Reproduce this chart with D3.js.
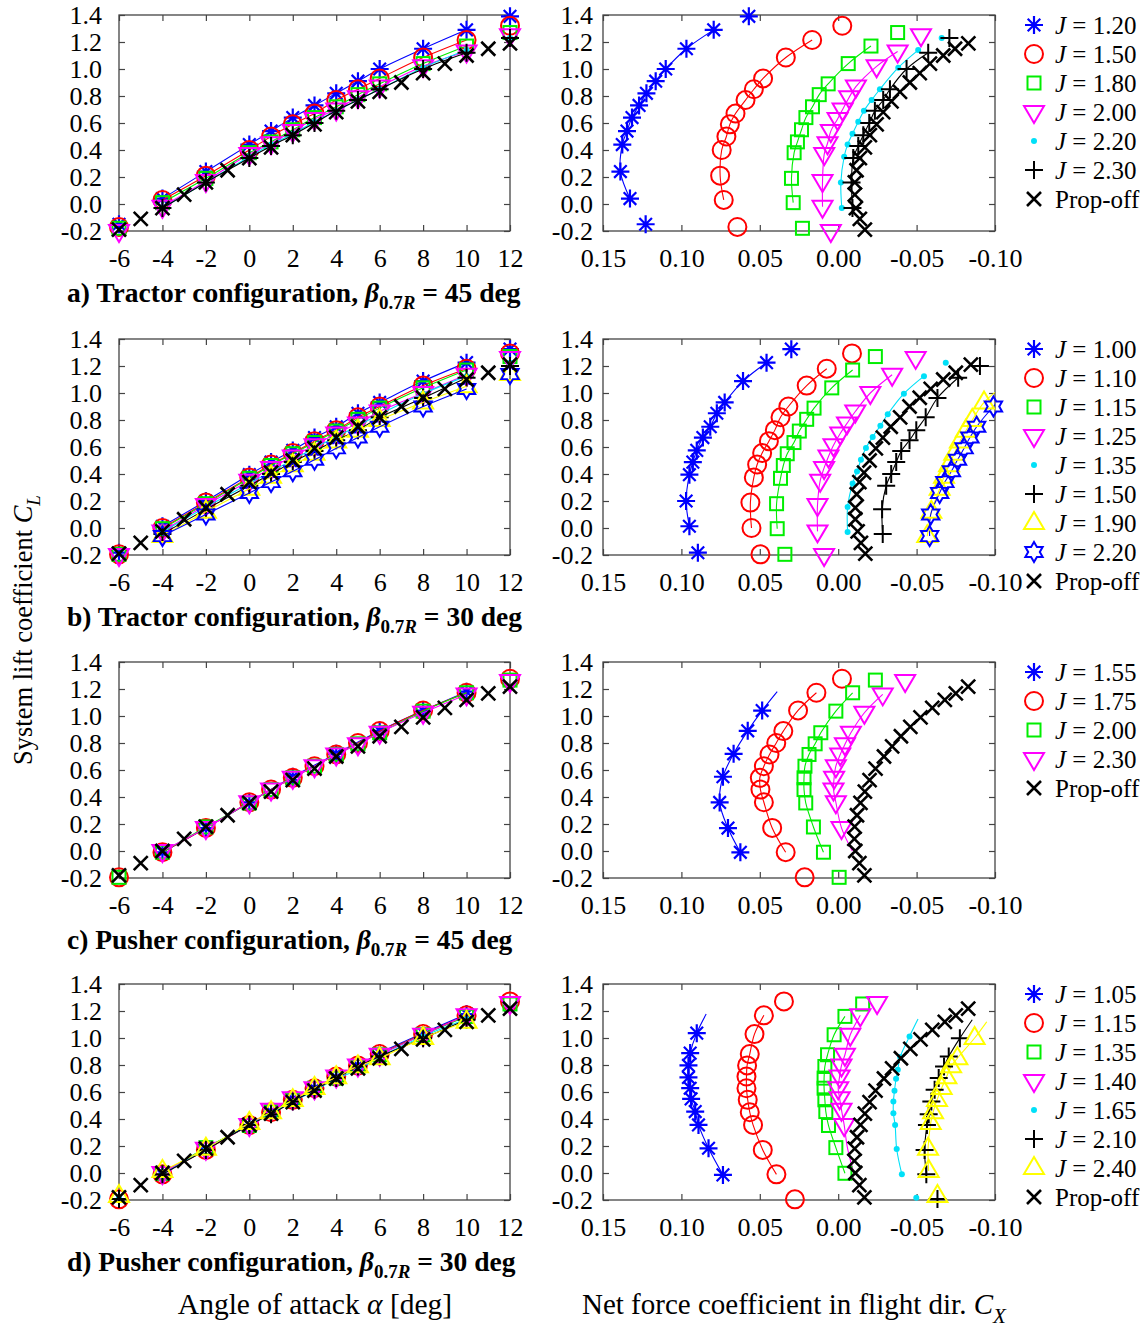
<!DOCTYPE html>
<html><head><meta charset="utf-8">
<script src="https://cdn.jsdelivr.net/npm/d3@7"></script>
<style>
body{margin:0;background:#fff}
svg{display:block}
text{font-family:"Liberation Serif","Times New Roman",serif;fill:#000}
</style>
</head><body>
<svg id="chart" width="1145" height="1328"></svg>
<script>
// ---------------- DATA ----------------
const ALPHA = [-6,-4,-2,0,1,2,3,4,5,6,8,10,12];
const ALPHA_OFF = [-6,-5,-4,-3,-2,-1,0,1,2,3,4,5,6,7,8,9,10,11,12];
const X_TICKS_L = [-6,-4,-2,0,2,4,6,8,10,12];
const X_TICKS_R = [0.15,0.10,0.05,0.00,-0.05,-0.10];
const Y_TICKS = [-0.2,0.0,0.2,0.4,0.6,0.8,1.0,1.2,1.4];

// a) Tractor, beta = 45 deg
const aJ = ["1.20","1.50","1.80","2.00","2.20","2.30"];
const aCL = [
 [-0.15,0.04,0.24,0.44,0.54,0.64,0.73,0.82,0.91,1.00,1.15,1.29,1.39],
 [-0.17,0.03,0.21,0.40,0.50,0.59,0.67,0.77,0.85,0.93,1.085,1.215,1.32],
 [-0.18,0.01,0.19,0.38,0.46,0.55,0.64,0.72,0.81,0.89,1.04,1.17,1.27],
 [-0.20,-0.02,0.17,0.37,0.45,0.54,0.63,0.70,0.79,0.87,1.02,1.13,1.25],
 [null,-0.03,0.16,0.35,0.44,0.52,0.61,0.69,0.77,0.85,1.01,1.14,1.23],
 [null,-0.03,0.16,0.34,0.43,0.51,0.60,0.69,0.77,0.85,1.00,1.12,1.23]
];
const aCX = [
 [0.1228,0.1328,0.1389,0.1377,0.1347,0.1315,0.1270,0.1223,0.1164,0.1100,0.0968,0.0794,0.0570],
 [0.0643,0.0730,0.0753,0.0743,0.0713,0.0691,0.0655,0.0591,0.0538,0.0479,0.0334,0.0166,-0.0026],
 [0.0228,0.0287,0.0298,0.0281,0.0260,0.0234,0.0206,0.0164,0.0121,0.0064,-0.0064,-0.0209,-0.0379],
 [0.0047,0.0100,0.0100,0.0089,0.0068,0.0047,0.0004,-0.0028,-0.0070,-0.0113,-0.0245,-0.0379,-0.0528],
 [null,-0.0023,-0.0017,-0.0038,-0.0060,-0.0091,-0.0128,-0.0164,-0.0213,-0.0266,-0.0383,-0.0510,-0.0660],
 [null,-0.0091,-0.0085,-0.0096,-0.0128,-0.0160,-0.0198,-0.0234,-0.0287,-0.0330,-0.0436,-0.0574,-0.0709]
];
const aHide = [[],[],[],[],[],[]];
const aOffCL = [-0.19,-0.11,-0.03,0.07,0.16,0.25,0.34,0.42,0.51,0.59,0.68,0.76,0.83,0.90,0.97,1.04,1.10,1.15,1.19];
const aOffCX = [-0.0170,-0.0138,-0.0113,-0.0106,-0.0106,-0.0117,-0.0138,-0.0170,-0.0202,-0.0245,-0.0287,-0.0340,-0.0394,-0.0457,-0.0520,-0.0585,-0.0670,-0.0745,-0.0830];

// b) Tractor, beta = 30 deg
const bJ = ["1.00","1.10","1.15","1.25","1.35","1.50","1.90","2.20"];
const bCL = [
 [-0.183,0.013,0.200,0.395,0.488,0.575,0.670,0.750,0.850,0.930,1.088,1.225,1.325],
 [-0.195,0.000,0.188,0.375,0.470,0.555,0.643,0.725,0.820,0.900,1.055,1.180,1.293],
 [-0.195,-0.005,0.180,0.368,0.463,0.550,0.633,0.718,0.805,0.888,1.038,1.170,1.270],
 [-0.200,-0.025,0.170,0.350,0.445,0.530,0.613,0.700,0.775,0.863,1.000,1.135,1.260],
 [null,-0.030,0.155,0.330,0.418,0.505,0.593,0.675,0.758,0.843,0.995,1.125,1.225],
 [null,-0.045,0.138,0.313,0.400,0.488,0.570,0.650,0.725,0.820,0.963,1.113,1.200],
 [null,-0.060,0.120,0.290,0.380,0.465,0.550,0.640,0.720,0.800,0.930,1.050,1.140],
 [null,-0.060,0.100,0.260,0.340,0.420,0.505,0.590,0.670,0.750,0.900,1.030,1.140]
];
const bCX = [
 [0.0895,0.0949,0.0970,0.0949,0.0927,0.0902,0.0863,0.0816,0.0774,0.0724,0.0607,0.0457,0.0299],
 [0.0496,0.0553,0.0560,0.0538,0.0517,0.0485,0.0442,0.0404,0.0368,0.0318,0.0201,0.0073,-0.0088],
 [0.0340,0.0389,0.0393,0.0368,0.0350,0.0325,0.0282,0.0248,0.0201,0.0154,0.0041,-0.0092,-0.0237],
 [0.0090,0.0132,0.0132,0.0115,0.0090,0.0062,0.0030,-0.0013,-0.0056,-0.0109,-0.0205,-0.0344,-0.0494],
 [null,-0.0060,-0.0060,-0.0092,-0.0120,-0.0145,-0.0177,-0.0220,-0.0269,-0.0316,-0.0419,-0.0547,-0.0686],
 [null,-0.0284,-0.0280,-0.0306,-0.0338,-0.0370,-0.0402,-0.0455,-0.0498,-0.0558,-0.0633,-0.0765,-0.0904],
 [null,-0.0568,-0.0594,-0.0647,-0.0675,-0.0707,-0.0740,-0.0776,-0.0814,-0.0855,-0.0930,-0.1050,-0.1150],
 [null,-0.0583,-0.0590,-0.0647,-0.0680,-0.0722,-0.0761,-0.0803,-0.0840,-0.0883,-0.0990,-0.1100,-0.1200]
];
const bHide = [[],[],[],[],[],[],[],[]];
const bOffCL = [-0.19,-0.11,-0.025,0.065,0.15,0.25,0.34,0.41,0.50,0.59,0.67,0.75,0.82,0.90,0.965,1.03,1.10,1.15,1.21];
const bOffCX = [-0.0173,-0.0145,-0.0124,-0.0109,-0.0109,-0.0118,-0.0135,-0.0165,-0.0200,-0.0240,-0.0285,-0.0335,-0.0395,-0.0455,-0.0520,-0.0590,-0.0670,-0.0750,-0.0846];

// c) Pusher, beta = 45 deg
const cJ = ["1.55","1.75","2.00","2.30"];
const cCL = [
 [null,-0.010,0.170,0.360,null,0.550,null,0.720,null,0.890,1.040,1.180,null],
 [-0.195,-0.009,0.171,0.361,0.455,0.542,0.628,0.715,0.800,0.888,1.041,1.172,1.276],
 [-0.195,-0.009,0.178,0.356,0.455,0.542,0.628,0.715,0.794,0.876,1.036,1.172,1.266],
 [null,0.000,0.171,0.361,0.455,0.542,0.628,0.715,0.790,0.876,1.024,1.160,1.259]
];
const cCX = [
 [null,0.0624,0.0703,0.0756,null,0.0735,null,0.0667,null,0.0577,0.0485,0.0389,null],
 [0.0214,0.0335,0.0421,0.0474,0.0496,0.0500,0.0474,0.0438,0.0395,0.0350,0.0256,0.0139,-0.0024],
 [-0.0006,0.0094,0.0158,0.0207,0.0218,0.0218,0.0212,0.0186,0.0147,0.0111,0.0015,-0.0092,-0.0237],
 [null,-0.0090,-0.0021,0.0015,0.0030,0.0026,0.0015,-0.0013,-0.0043,-0.0081,-0.0167,-0.0284,-0.0427]
];
const cHide = [[10],[],[],[-4]];

// d) Pusher, beta = 30 deg
const dJ = ["1.05","1.15","1.35","1.40","1.65","2.10","2.40"];
const dCL = [
 [null,-0.014,0.183,0.356,0.455,0.549,0.628,0.708,0.797,0.888,1.036,1.177,null],
 [-0.195,-0.010,0.171,0.356,0.450,0.542,0.628,0.715,0.797,0.881,1.029,1.168,1.271],
 [null,-0.002,0.188,0.352,0.455,0.542,0.628,0.703,0.789,0.876,1.024,1.160,1.252],
 [null,0.000,0.180,0.356,0.468,0.554,0.628,0.715,0.797,0.876,1.024,1.168,1.259],
 [-0.183,-0.010,0.178,0.356,0.443,0.529,0.609,0.698,0.764,0.860,1.012,1.140,null],
 [-0.193,-0.010,0.171,0.356,0.435,0.529,0.616,0.703,0.789,0.863,0.999,1.135,null],
 [-0.170,0.015,0.180,0.370,0.450,0.540,0.630,0.710,0.790,0.850,1.000,1.120,null]
];
const dCX = [
 [null,0.0735,0.0827,0.0891,0.0912,0.0938,0.0944,0.0955,0.0955,0.0944,0.0902,0.0842,null],
 [0.0276,0.0394,0.0481,0.0543,0.0564,0.0577,0.0585,0.0585,0.0581,0.0564,0.0534,0.0474,0.0346],
 [null,-0.0043,0.0015,0.0062,0.0079,0.0085,0.0090,0.0090,0.0085,0.0068,0.0026,-0.0043,-0.0156],
 [null,-0.0100,-0.0060,-0.0038,-0.0021,-0.0009,0.0000,-0.0009,-0.0021,-0.0043,-0.0077,-0.0141,-0.0248],
 [-0.0498,-0.0406,-0.0373,-0.0363,-0.0352,-0.0352,-0.0359,-0.0369,-0.0380,-0.0395,-0.0455,-0.0509,null],
 [-0.0633,-0.0562,-0.0551,-0.0566,-0.0577,-0.0594,-0.0615,-0.0641,-0.0675,-0.0705,-0.0776,-0.0855,null],
 [-0.0633,-0.0577,-0.0573,-0.0590,-0.0605,-0.0630,-0.0660,-0.0690,-0.0720,-0.0760,-0.0870,-0.0947,null]
];
const dHide = [[10],[],[],[-4,-2],[10],[10],[10]];

// pusher prop-off (rows c and d)
const pOffCL = [-0.18,-0.09,0.00,0.09,0.18,0.265,0.356,0.44,0.525,0.61,0.70,0.775,0.85,0.92,0.99,1.06,1.12,1.167,1.217];
const pOffCX = [-0.0167,-0.0135,-0.0109,-0.0103,-0.0105,-0.0120,-0.0142,-0.0170,-0.0200,-0.0238,-0.0292,-0.0344,-0.0400,-0.0460,-0.0525,-0.0600,-0.0680,-0.0750,-0.0829];

const TITLE_TEXT = ["a) Tractor configuration, ","b) Tractor configuration, ","c) Pusher configuration, ","d) Pusher configuration, "];
const TITLE_ANGLE = ["45","30","45","30"];
const LINE_RANGE = [-4, 10];

// ---------------- STYLE / LAYOUT ----------------
const BLUE="#0000ff", RED="#ff0000", GREEN="#00ee00", MAG="#ff00ff", CYAN="#00e0f8", BLK="#000000", YEL="#ffff00";
const STY = {
  a: [["star",BLUE],["circle",RED],["square",GREEN],["tridown",MAG],["dot",CYAN],["plus",BLK]],
  b: [["star",BLUE],["circle",RED],["square",GREEN],["tridown",MAG],["dot",CYAN],["plus",BLK],["triup",YEL],["hexa",BLUE]],
  c: [["star",BLUE],["circle",RED],["square",GREEN],["tridown",MAG]],
  d: [["star",BLUE],["circle",RED],["square",GREEN],["tridown",MAG],["dot",CYAN],["plus",BLK],["triup",YEL]]
};
const ROWS = [
  {key:"a", J:aJ, CL:aCL, CX:aCX, hide:aHide, offCL:aOffCL, offCX:aOffCX},
  {key:"b", J:bJ, CL:bCL, CX:bCX, hide:bHide, offCL:bOffCL, offCX:bOffCX},
  {key:"c", J:cJ, CL:cCL, CX:cCX, hide:cHide, offCL:pOffCL, offCX:pOffCX},
  {key:"d", J:dJ, CL:dCL, CX:dCX, hide:dHide, offCL:pOffCL, offCX:pOffCX}
];
const TOPS = [15, 339, 662, 984], PH = 216;
const LX0 = 119, LX1 = 510, RX0 = 603, RX1 = 995;
const FS = 26;

const svg = d3.select("#chart");
const xL = d3.scaleLinear().domain([-6,12]).range([LX0,LX1]);
const xR = d3.scaleLinear().domain([0.15,-0.10]).range([RX0,RX1]);

function drawMarker(g, shape, color, x, y) {
  const sw = 2;
  if (shape === "circle") {
    g.append("circle").attr("cx",x).attr("cy",y).attr("r",9).attr("fill","none").attr("stroke",color).attr("stroke-width",sw);
  } else if (shape === "square") {
    g.append("rect").attr("x",x-6.5).attr("y",y-6.5).attr("width",13).attr("height",13).attr("fill","none").attr("stroke",color).attr("stroke-width",sw);
  } else if (shape === "tridown") {
    g.append("path").attr("d",`M${x-10},${y-6}L${x+10},${y-6}L${x},${y+11}Z`).attr("fill","none").attr("stroke",color).attr("stroke-width",sw).attr("stroke-linejoin","miter");
  } else if (shape === "triup") {
    g.append("path").attr("d",`M${x-10},${y+6}L${x+10},${y+6}L${x},${y-11}Z`).attr("fill","none").attr("stroke",color).attr("stroke-width",sw);
  } else if (shape === "dot") {
    g.append("circle").attr("cx",x).attr("cy",y).attr("r",3).attr("fill",color);
  } else if (shape === "plus") {
    g.append("path").attr("d",`M${x-9},${y}H${x+9}M${x},${y-9}V${y+9}`).attr("stroke",color).attr("stroke-width",sw);
  } else if (shape === "cross") {
    g.append("path").attr("d",`M${x-7},${y-7}L${x+7},${y+7}M${x-7},${y+7}L${x+7},${y-7}`).attr("stroke",color).attr("stroke-width",2.6);
  } else if (shape === "star") {
    const d = 6.3;
    g.append("path").attr("d",`M${x-9},${y}H${x+9}M${x},${y-9}V${y+9}M${x-d},${y-d}L${x+d},${y+d}M${x-d},${y+d}L${x+d},${y-d}`).attr("stroke",color).attr("stroke-width",2.2);
  } else if (shape === "hexa") {
    const pts = [];
    for (let k = 0; k < 12; k++) {
      const r = (k % 2 === 0) ? 10 : 5.8;
      const a = -Math.PI/2 + k*Math.PI/6;
      pts.push([x + r*Math.cos(a), y + r*Math.sin(a)]);
    }
    g.append("path").attr("d","M"+pts.map(p=>p.join(",")).join("L")+"Z").attr("fill","none").attr("stroke",color).attr("stroke-width",sw);
  }
}

function frame(g, x0, x1, y0, y1) {
  g.append("rect").attr("x",x0).attr("y",y0).attr("width",x1-x0).attr("height",y1-y0)
   .attr("fill","none").attr("stroke","#444").attr("stroke-width",1.3);
}

function styleAxis(a) {
  a.select(".domain").remove();
  a.selectAll(".tick line").attr("stroke","#444").attr("stroke-width",1.2);
  a.selectAll(".tick text").attr("font-size",FS).attr("font-family",'"Liberation Serif","Times New Roman",serif').attr("fill","#000");
}

ROWS.forEach((row, ri) => {
  const top = TOPS[ri], bot = top + PH;
  const y = d3.scaleLinear().domain([-0.2,1.4]).range([bot, top]);
  const sty = STY[row.key];

  // ----- axes (both panels) -----
  [[xL, LX0, LX1, X_TICKS_L, d => String(d), 17], [xR, RX0, RX1, X_TICKS_R, d => d.toFixed(2), 10]].forEach(([xs, x0, x1, ticks, fmt, ypad]) => {
    const gb = svg.append("g").attr("transform",`translate(0,${bot})`)
      .call(d3.axisBottom(xs).tickValues(ticks).tickFormat(fmt).tickSizeInner(-6).tickSizeOuter(0).tickPadding(18));
    styleAxis(gb);
    const gt = svg.append("g").attr("transform",`translate(0,${top})`)
      .call(d3.axisTop(xs).tickValues(ticks).tickFormat("").tickSizeInner(-6).tickSizeOuter(0));
    styleAxis(gt);
    const gl = svg.append("g").attr("transform",`translate(${x0},0)`)
      .call(d3.axisLeft(y).tickValues(Y_TICKS).tickFormat(d => d.toFixed(1)).tickSizeInner(-6).tickSizeOuter(0).tickPadding(ypad));
    styleAxis(gl);
    const gr = svg.append("g").attr("transform",`translate(${x1},0)`)
      .call(d3.axisRight(y).tickValues(Y_TICKS).tickFormat("").tickSizeInner(-6).tickSizeOuter(0));
    styleAxis(gr);
    frame(svg, x0, x1, top, bot);
  });

  // clip for right panel lines
  const clipId = "clipR" + ri;
  svg.append("clipPath").attr("id",clipId).append("rect").attr("x",RX0).attr("y",top-20).attr("width",RX1-RX0).attr("height",PH+40);

  const gL = svg.append("g");
  const gR = svg.append("g");
  const gRL = gR.append("g").attr("clip-path",`url(#${clipId})`);
  const gRM = gR.append("g");

  const curve = d3.curveCatmullRom.alpha(0.5);

  row.J.forEach((jv, si) => {
    const [shape, color] = sty[si];
    const cl = row.CL[si], cx = row.CX[si], hide = row.hide[si];
    // left panel
    const ptsL = ALPHA.map((a, k) => ({a, cl: cl[k]})).filter(p => p.cl !== null);
    const lineL = ptsL.filter(p => p.a >= LINE_RANGE[0] && p.a <= LINE_RANGE[1]);
    gL.append("path").datum(lineL)
      .attr("d", d3.line().x(p => xL(p.a)).y(p => y(p.cl)).curve(curve))
      .attr("fill","none").attr("stroke",color).attr("stroke-width",1.1);
    const gml = gL.append("g");
    ptsL.forEach(p => drawMarker(gml, shape, color, xL(p.a), y(p.cl)));
    // right panel
    const ptsR = ALPHA.map((a, k) => ({a, cl: cl[k], cx: cx[k]})).filter(p => p.cl !== null && p.cx !== null);
    const lineR = ptsR.filter(p => p.a >= LINE_RANGE[0] && p.a <= LINE_RANGE[1]);
    gRL.append("path").datum(lineR)
      .attr("d", d3.line().x(p => xR(p.cx)).y(p => y(p.cl)).curve(curve))
      .attr("fill","none").attr("stroke",color).attr("stroke-width",1.1);
    const gmr = gRM.append("g");
    ptsR.filter(p => !hide.includes(p.a) && p.cx <= 0.15 && p.cx >= -0.1005)
      .forEach(p => drawMarker(gmr, shape, color, xR(p.cx), y(p.cl)));
  });

  // prop-off
  const gOffL = gL.append("g"), gOffR = gRM.append("g");
  ALPHA_OFF.forEach((a, k) => {
    drawMarker(gOffL, "cross", BLK, xL(a), y(row.offCL[k]));
    const c = row.offCX[k];
    if (c <= 0.15 && c >= -0.1005) drawMarker(gOffR, "cross", BLK, xR(c), y(row.offCL[k]));
  });

  // legend
  const items = row.J.map((jv, si) => ({shape: sty[si][0], color: sty[si][1], j: jv}));
  items.push({shape:"cross", color:BLK, j:null});
  const gLeg = svg.append("g");
  items.forEach((it, k) => {
    const ly = top + 10 + k*29;
    drawMarker(gLeg, it.shape, it.color, 1034, ly);
    const t = gLeg.append("text").attr("x",1055).attr("y",ly).attr("dy","0.35em").attr("font-size",25);
    if (it.j === null) {
      t.text("Prop-off");
    } else {
      t.append("tspan").attr("font-style","italic").text("J");
      t.append("tspan").text(" = " + it.j);
    }
  });

  // panel title
  const tt = svg.append("text").attr("x",67).attr("y",bot+71).attr("font-size",27.5).attr("font-weight","bold");
  tt.append("tspan").text(TITLE_TEXT[ri]);
  tt.append("tspan").attr("font-style","italic").text("β");
  tt.append("tspan").attr("font-size",19).attr("dy",7).text("0.7");
  tt.append("tspan").attr("font-size",19).attr("font-style","italic").text("R");
  tt.append("tspan").attr("dy",-7).text(" = " + TITLE_ANGLE[ri] + " deg");
});

// axis titles
const xt1 = svg.append("text").attr("x",315).attr("y",1314).attr("text-anchor","middle").attr("font-size",29.5);
xt1.append("tspan").text("Angle of attack ");
xt1.append("tspan").attr("font-style","italic").text("α");
xt1.append("tspan").text(" [deg]");

const xt2 = svg.append("text").attr("x",582).attr("y",1314).attr("font-size",29);
xt2.append("tspan").text("Net force coefficient in flight dir. ");
xt2.append("tspan").attr("font-style","italic").text("C");
xt2.append("tspan").attr("font-style","italic").attr("font-size",21).attr("dy",9).text("X");

const yt = svg.append("text").attr("transform","translate(32,630) rotate(-90)").attr("text-anchor","middle").attr("font-size",26.5);
yt.append("tspan").text("System lift coefficient ");
yt.append("tspan").attr("font-style","italic").text("C");
yt.append("tspan").attr("font-style","italic").attr("font-size",19).attr("dy",8).text("L");
</script>
</body></html>
